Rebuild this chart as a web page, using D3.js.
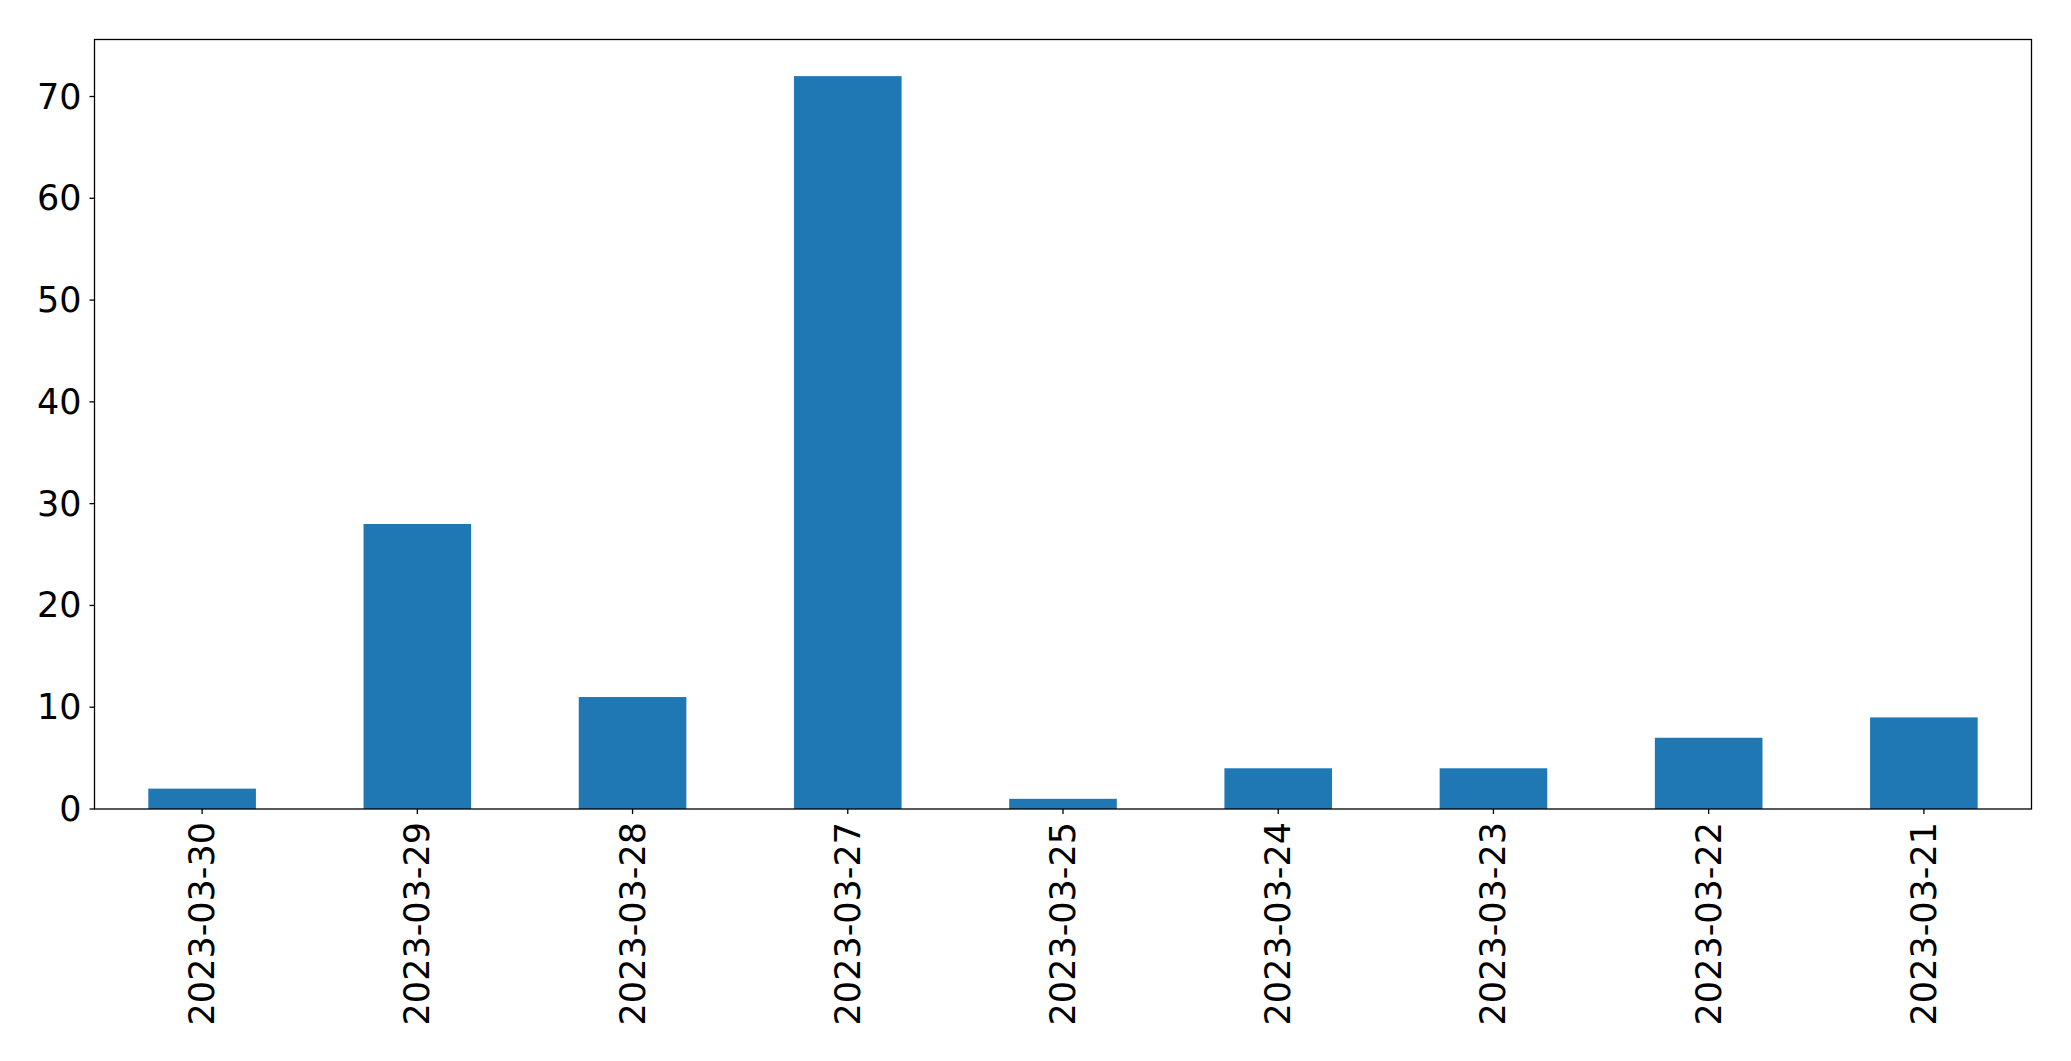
<!DOCTYPE html>
<html><head><meta charset="utf-8">
<script src="https://cdn.jsdelivr.net/npm/d3@7"></script>
<style>body{margin:0;background:#fff;} svg{display:block;} text{font-family:"DejaVu Sans",sans-serif;fill:#000;}</style>
</head><body><svg id="c" width="2071" height="1061"></svg>
<script>
const categories = ["2023-03-30","2023-03-29","2023-03-28","2023-03-27","2023-03-25","2023-03-24","2023-03-23","2023-03-22","2023-03-21"];
const values = [2, 28, 11, 72, 1, 4, 4, 7, 9];
const yTicks = [0, 10, 20, 30, 40, 50, 60, 70];

const svg = d3.select("#c");
const L = 94.5, R = 2031.5, T = 39.5, B = 809;
const fs = 35;
const x = d3.scaleLinear().domain([-0.5, categories.length - 0.5]).range([L, R]);
const y = d3.scaleLinear().domain([0, d3.max(values) * 1.05]).range([B, T]);

svg.append("g").selectAll("rect").data(values).join("rect")
  .attr("x", (d, i) => x(i - 0.25)).attr("width", (d, i) => x(i + 0.25) - x(i - 0.25))
  .attr("y", d => y(d)).attr("height", d => y(0) - y(d)).attr("fill", "#1f77b4");

svg.append("rect").attr("x", L).attr("y", T).attr("width", R - L).attr("height", B - T)
  .attr("fill", "none").attr("stroke", "#000").attr("stroke-width", 1.3);

const ya = svg.append("g");
yTicks.forEach(t => {
  ya.append("line").attr("x1", L - 5).attr("x2", L).attr("y1", y(t)).attr("y2", y(t)).attr("stroke", "#000").attr("stroke-width", 1.3);
  ya.append("text").attr("x", L - 13).attr("y", y(t)).attr("text-anchor", "end").attr("dominant-baseline", "central")
    .attr("font-size", fs).text(t);
});

const xa = svg.append("g");
categories.forEach((c, i) => {
  xa.append("line").attr("x1", x(i)).attr("x2", x(i)).attr("y1", B).attr("y2", B + 5).attr("stroke", "#000").attr("stroke-width", 1.3);
  xa.append("text").attr("transform", `translate(${x(i)},${B + 13}) rotate(-90)`)
    .attr("text-anchor", "end").attr("dominant-baseline", "central").attr("font-size", fs).text(c);
});
</script></body></html>
